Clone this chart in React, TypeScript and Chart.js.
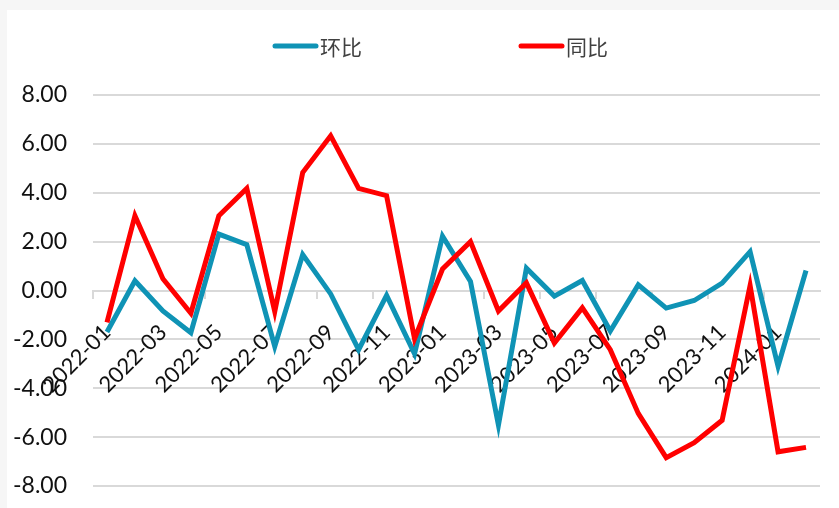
import React, { useEffect, useRef } from "react";
import { Chart, registerables } from "chart.js";

Chart.register(...registerables);

const months: string[] = [
  "2022-01", "2022-02", "2022-03", "2022-04", "2022-05", "2022-06",
  "2022-07", "2022-08", "2022-09", "2022-10", "2022-11", "2022-12",
  "2023-01", "2023-02", "2023-03", "2023-04", "2023-05", "2023-06",
  "2023-07", "2023-08", "2023-09", "2023-10", "2023-11", "2023-12",
  "2024-01", "2024-02",
];

const momValues: number[] = [
  -1.7, 0.4, -0.84, -1.73, 2.31, 1.88, -2.29, 1.47, -0.14, -2.42, -0.2, -2.59,
  2.22, 0.37, -5.51, 0.91, -0.23, 0.41, -1.66, 0.23, -0.72, -0.41, 0.3, 1.59,
  -3.1, 0.82,
];

const yoyValues: number[] = [
  -1.3, 3.06, 0.48, -0.93, 3.06, 4.18, -0.86, 4.83, 6.33, 4.18, 3.88, -1.97,
  0.88, 2.0, -0.84, 0.31, -2.15, -0.71, -2.42, -5.03, -6.84, -6.23, -5.31, 0.2,
  -6.6, -6.42,
];

const seriesNames: string[] = ["环比", "同比"];
const seriesColors: string[] = ["#0f93b5", "#ff0000"];
const yTicks: number[] = [-8, -6, -4, -2, 0, 2, 4, 6, 8];

const legendPlugin = {
  id: "customLegend",
  afterDraw(chart: any) {
    const ctx = chart.ctx;
    const starts = [266, 512];
    ctx.save();
    chart.data.datasets.forEach((ds: any, i: number) => {
      const x0 = starts[i];
      const y = 36;
      ctx.beginPath();
      ctx.lineCap = "round";
      ctx.lineWidth = 5;
      ctx.strokeStyle = ds.borderColor;
      ctx.moveTo(x0 + 2, y);
      ctx.lineTo(x0 + 43, y);
      ctx.stroke();
      ctx.fillStyle = "#404040";
      ctx.font = '21px "Noto Sans CJK SC"';
      ctx.textBaseline = "middle";
      ctx.textAlign = "left";
      ctx.fillText(ds.label, x0 + 47, y + 1);
    });
    ctx.restore();
  },
};

export default function App() {
  const canvasRef = useRef<HTMLCanvasElement | null>(null);

  useEffect(() => {
    document.body.style.margin = "0";
    const canvas = canvasRef.current;
    if (!canvas) return;
    const chart = new Chart(canvas, {
      type: "line",
      data: {
        labels: months,
        datasets: [
          {
            label: seriesNames[0],
            data: momValues,
            borderColor: seriesColors[0],
            backgroundColor: seriesColors[0],
            borderWidth: 5,
            pointRadius: 0,
            tension: 0,
            order: 1,
          },
          {
            label: seriesNames[1],
            data: yoyValues,
            borderColor: seriesColors[1],
            backgroundColor: seriesColors[1],
            borderWidth: 5,
            pointRadius: 0,
            tension: 0,
            order: 0,
          },
        ],
      },
      options: {
        animation: false,
        responsive: false,
        layout: { padding: { top: 85, right: 19, bottom: 22, left: 0 } },
        plugins: {
          legend: { display: false },
          tooltip: { enabled: false },
        },
        scales: {
          x: {
            type: "category",
            position: { y: 0 } as any,
            offset: true,
            afterFit: (scale: any) => {
              scale.height = 0;
              scale.paddingLeft = 0;
              scale.paddingRight = 0;
              scale.paddingTop = 0;
              scale.paddingBottom = 0;
              if (scale._margins) {
                scale._margins.left = 0;
                scale._margins.right = 0;
                scale._margins.top = 0;
                scale._margins.bottom = 0;
              }
            },
            grid: {
              offset: true,
              drawOnChartArea: false,
              drawTicks: true,
              tickLength: 7,
              lineWidth: 2,
              color: (c: any) => (c.index % 2 === 0 ? "#d9d9d9" : "rgba(0,0,0,0)"),
            },
            border: { display: true, color: "#d9d9d9", width: 2 },
            ticks: {
              autoSkip: false,
              maxRotation: 45,
              minRotation: 45,
              padding: 22,
              color: "#111111",
              font: { family: "Lato", size: 22 },
              callback: (_v: any, i: number) => (i % 2 === 0 ? months[i] : ""),
            },
          },
          y: {
            min: -8,
            max: 8,
            afterBuildTicks: (scale: any) => {
              scale.ticks = yTicks.map((v) => ({ value: v }));
            },
            afterFit: (scale: any) => {
              scale.width = 86;
              scale.paddingTop = 0;
              scale.paddingBottom = 0;
            },
            grid: {
              color: "#d9d9d9",
              lineWidth: 2,
              drawTicks: false,
            },
            border: { display: false },
            ticks: {
              padding: 26,
              color: "#111111",
              font: { family: "Lato", size: 23 },
              callback: (v: any) => Number(v).toFixed(2),
            },
          },
        },
      },
      plugins: [legendPlugin],
    });
    return () => chart.destroy();
  }, []);

  return (
    <div style={{ position: "relative", width: 839, height: 508, background: "#f6f6f6", overflow: "hidden" }}>
      <div style={{ position: "absolute", left: 7, top: 10, width: 832, height: 498, background: "#ffffff" }}>
        <canvas ref={canvasRef} width={832} height={498} style={{ display: "block" }} />
      </div>
    </div>
  );
}
